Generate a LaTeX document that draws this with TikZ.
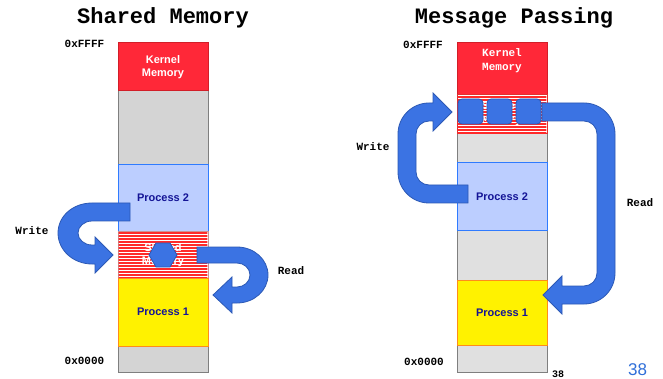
\documentclass[tikz,border=0pt]{standalone}
\usepackage{fontspec}
\setmainfont{Liberation Sans}
\newfontfamily\cour{Liberation Mono}
\definecolor{kred}{HTML}{FF2838}
\definecolor{kredd}{HTML}{D21E28}
\definecolor{lgray}{HTML}{D4D4D4}
\definecolor{rgray}{HTML}{E0E0E0}
\definecolor{bgray}{HTML}{7F7F7F}
\definecolor{ptwofill}{HTML}{BCCEFF}
\definecolor{ptwodraw}{HTML}{2F7BFF}
\definecolor{ponedraw}{HTML}{FF8C1A}
\definecolor{ablue}{HTML}{3B73E3}
\definecolor{ablued}{HTML}{2C59B5}
\definecolor{navytxt}{HTML}{141496}
\definecolor{stripered}{HTML}{FF2A2A}
\definecolor{shbl}{HTML}{C89494}
\definecolor{shbr}{HTML}{E03030}
\definecolor{slideblue}{HTML}{2F6FD9}
\tikzset{
  blk/.style={minimum width=90pt, inner sep=0pt, outer sep=0pt, line width=1pt},
  graylblk/.style={blk, fill=lgray, draw=bgray},
  grayrblk/.style={blk, fill=rgray, draw=bgray},
  kernblk/.style={blk, fill=kred, draw=kredd},
  ptwoblk/.style={blk, fill=ptwofill, draw=ptwodraw, text=navytxt, font=\bfseries\fontsize{11}{13}\selectfont},
  poneblk/.style={blk, fill=yellow, draw=ponedraw, text=navytxt, font=\bfseries\fontsize{11}{13}\selectfont},
  stripeline/.style={draw=stripered, line width=1.6pt},
  barrow/.style={fill=ablue, draw=ablued, line width=0.8pt},
  lbl/.style={font=\cour\bfseries\fontsize{11}{13}\selectfont, inner sep=0pt},
  ttl/.style={font=\cour\bfseries\fontsize{22}{26}\selectfont, inner sep=0pt},
  whitesans/.style={text=white, align=center, inner sep=0pt, font=\bfseries\fontsize{11}{13}\selectfont},
  whitemono/.style={text=white, align=center, inner sep=0pt, font=\cour\bfseries\fontsize{11}{14}\selectfont},
}
\begin{document}
\begin{tikzpicture}[x=1pt, y=-1pt]
\useasboundingbox (0,0) rectangle (663,379);
\fill[white] (0,0) rectangle (663,379);

% ---------- titles ----------
\node[ttl] (t1) at (163,18) {Shared Memory};
\node[ttl] (t2) at (514,18) {Message Passing};

% ---------- left memory column ----------
\node[graylblk, minimum height=74pt] (lg1) at (163,128) {};
\node[graylblk, minimum height=26pt] (lg2) at (163,359) {};
\node[kernblk, minimum height=48pt] (lk) at (163,67) {};
\node[whitesans] (lkt) at (163,67.5) {Kernel\\Memory};
\node[ptwoblk, minimum height=66pt] (lp2) at (163,198) {Process 2};
\node[blk, fill=white, draw=shbl, minimum height=47pt] (lsh) at (163,254.5) {};
\begin{scope}
  \clip (118.6,231.6) rectangle (207.4,277.4);
  \foreach \y in {233,236,...,278} \draw[stripeline] (118,\y) -- (208,\y);
\end{scope}
\node[whitesans] (lsht) at (163,255.5) {Shared\\Memory};
\node[poneblk, minimum height=68pt] (lp1) at (163,312) {Process 1};

\draw[barrow] (149,255) -- (156,243) -- (170,243) -- (177,255) -- (170,267) -- (156,267) -- cycle;

% Write arrow (left)
\draw[barrow] (130,203) -- (92,203)
  .. controls (73.2,203) and (58,216) .. (58,233)
  .. controls (58,250.1) and (73.2,264) .. (92,264)
  -- (95,264) -- (95,273) -- (113,255) -- (95,237) -- (95,245) -- (92,245)
  .. controls (84.3,245) and (78,239.6) .. (78,233)
  .. controls (78,226.4) and (84.3,221) .. (92,221)
  -- (130,221) -- cycle;
% Read arrow (left)
\draw[barrow] (197,247) -- (237,247)
  .. controls (254.1,247) and (268,259.5) .. (268,275)
  .. controls (268,290.5) and (254.1,303) .. (237,303)
  -- (232,303) -- (232,313) -- (213,295) -- (232,277) -- (232,287) -- (237,287)
  .. controls (244.2,287) and (250,281.6) .. (250,275)
  .. controls (250,268.4) and (244.2,263) .. (237,263)
  -- (197,263) -- cycle;

\node[lbl] (lhi) at (84.5,44) {0xFFFF};
\node[lbl] (llo) at (84.5,361) {0x0000};
\node[lbl] (lw) at (32,231) {Write};
\node[lbl] (lr) at (291,271) {Read};

% ---------- right memory column ----------
\node[grayrblk, minimum height=29pt] (rg1) at (502,148.5) {};
\node[grayrblk, minimum height=50pt] (rg2) at (502,255) {};
\node[grayrblk, minimum height=27pt] (rg3) at (502,358.5) {};
\node[kernblk, minimum height=52pt] (rk) at (502,69) {};
\node[whitemono] (rkt) at (502,61) {Kernel\\Memory};
\node[blk, fill=white, draw=shbr, minimum height=39pt] (rsh) at (502,114.5) {};
\begin{scope}
  \clip (457.6,95.6) rectangle (546.4,133.4);
  \foreach \y in {97,100,...,134} \draw[stripeline] (457,\y) -- (547,\y);
\end{scope}
\node[whitemono] (rsht) at (502,114) {Shared\\Memory};
\node[ptwoblk, minimum height=67pt] (rp2) at (502,196.5) {Process 2};
\node[poneblk, minimum height=65pt] (rp1) at (502,312.5) {Process 1};

\draw[barrow, rounded corners=4pt] (458,99) rectangle (483,124);
\draw[barrow, rounded corners=4pt] (487,99) rectangle (512,124);
\draw[barrow, rounded corners=4pt] (516,99) rectangle (541,124);

% Write arrow (right)
\draw[barrow] (468,203) -- (429,203)
  .. controls (411.9,203) and (398,189.1) .. (398,172)
  -- (398,134)
  .. controls (398,116.9) and (411.9,103) .. (429,103)
  -- (433,103) -- (433,93) -- (452,112) -- (433,131) -- (433,121) -- (429,121)
  .. controls (421.8,121) and (416,126.8) .. (416,134)
  -- (416,172)
  .. controls (416,179.2) and (421.8,185) .. (429,185)
  -- (468,185) -- cycle;
% Read arrow (right)
\draw[barrow] (542,103) -- (584,103)
  .. controls (601.1,103) and (615,116.9) .. (615,134)
  -- (615,273)
  .. controls (615,290.1) and (601.1,304) .. (584,304)
  -- (562,304) -- (562,314) -- (543,295) -- (562,276) -- (562,286) -- (584,286)
  .. controls (591.2,286) and (597,280.2) .. (597,273)
  -- (597,134)
  .. controls (597,126.8) and (591.2,121) .. (584,121)
  -- (542,121) -- cycle;

\node[lbl] (rhi) at (423,45) {0xFFFF};
\node[lbl] (rlo) at (424,362) {0x0000};
\node[lbl] (rw) at (373,147) {Write};
\node[lbl] (rr) at (640,203) {Read};

% page numbers
\node[font=\cour\bfseries\fontsize{10}{12}\selectfont, inner sep=0pt, anchor=base] (pn1) at (558,377) {38};
\node[font=\fontsize{17}{20}\selectfont, text=slideblue, inner sep=0pt, anchor=base] (pn2) at (637.5,375.5) {38};
\end{tikzpicture}
\end{document}
